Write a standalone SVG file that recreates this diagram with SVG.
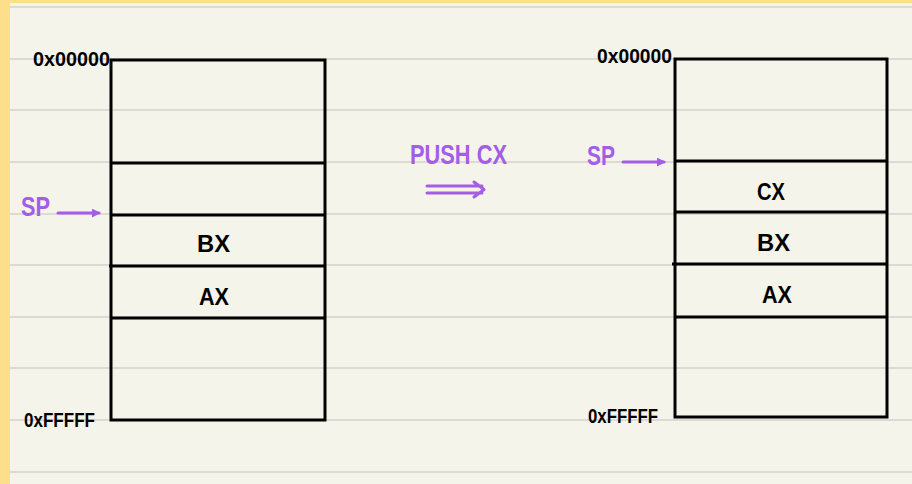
<svg xmlns="http://www.w3.org/2000/svg" width="912" height="484" viewBox="0 0 912 484">
  <style>
    .rule { stroke: #DCDBD3; stroke-width: 2; }
    .box { fill: none; stroke: #000; stroke-width: 3; }
    .div { stroke: #000; stroke-width: 3; }
    .addr { font-family: "Liberation Sans", Arial, sans-serif; font-weight: bold; font-size: 20px; fill: #000; }
    .reg { font-family: "Liberation Sans", Arial, sans-serif; font-weight: bold; font-size: 24px; fill: #000; }
    .hl { font-family: "Liberation Sans", Arial, sans-serif; font-weight: bold; font-size: 28px; fill: #A35DE6; }
    .ptr { stroke: #A35DE6; stroke-width: 3; stroke-linecap: round; fill: none; }
  </style>
  <defs>
    <marker id="tip" viewBox="0 0 10 10" refX="8" refY="5" markerWidth="3" markerHeight="3" orient="auto">
      <path d="M0,0 L10,5 L0,10 z" fill="#A35DE6"/>
    </marker>
  </defs>

  <!-- paper -->
  <rect x="0" y="0" width="912" height="484" fill="#F5F4EA"/>
  <rect x="0" y="0" width="912" height="3" fill="#FDDF8B"/>
  <rect x="0" y="0" width="10" height="484" fill="#FDDF8B"/>
  <g id="ruling">
    <line class="rule" x1="10" y1="7" x2="912" y2="7"/>
    <line class="rule" x1="10" y1="59" x2="912" y2="59"/>
    <line class="rule" x1="10" y1="110" x2="912" y2="110"/>
    <line class="rule" x1="10" y1="162" x2="912" y2="162"/>
    <line class="rule" x1="10" y1="214" x2="912" y2="214"/>
    <line class="rule" x1="10" y1="265" x2="912" y2="265"/>
    <line class="rule" x1="10" y1="317" x2="912" y2="317"/>
    <line class="rule" x1="10" y1="368" x2="912" y2="368"/>
    <line class="rule" x1="10" y1="420" x2="912" y2="420"/>
    <line class="rule" x1="10" y1="472" x2="912" y2="472"/>
  </g>

  <!-- stack before the push -->
  <g id="stack-before">
    <rect class="box" x="111" y="60" width="214" height="360"/>
    <line class="div" x1="111" y1="163" x2="325" y2="163"/>
    <line class="div" x1="111" y1="215" x2="325" y2="215"/>
    <line class="div" x1="109" y1="266" x2="325" y2="266"/>
    <line class="div" x1="111" y1="318" x2="325" y2="318"/>
    <text class="reg" x="197" y="252" textLength="33" lengthAdjust="spacingAndGlyphs">BX</text>
    <text class="reg" x="199" y="305" textLength="30" lengthAdjust="spacingAndGlyphs">AX</text>
  </g>
  <g id="addr-top-before"><text class="addr" x="33" y="66" textLength="77" lengthAdjust="spacingAndGlyphs">0x00000</text></g>
  <g id="addr-bottom-before"><text class="addr" x="24" y="427" textLength="71" lengthAdjust="spacingAndGlyphs">0xFFFFF</text></g>
  <g id="sp-before"><text class="hl" x="21" y="216" textLength="29" lengthAdjust="spacingAndGlyphs">SP</text></g>

  <!-- push operation -->
  <g id="op"><text class="hl" x="410" y="164" textLength="97" lengthAdjust="spacingAndGlyphs">PUSH CX</text></g>

  <!-- stack after the push -->
  <g id="stack-after">
    <rect class="box" x="675" y="59" width="212" height="358"/>
    <line class="div" x1="675" y1="161" x2="887" y2="161"/>
    <line class="div" x1="675" y1="212" x2="887" y2="212"/>
    <line class="div" x1="672" y1="264" x2="887" y2="264"/>
    <line class="div" x1="675" y1="317" x2="887" y2="317"/>
    <text class="reg" x="757" y="200" textLength="28" lengthAdjust="spacingAndGlyphs">CX</text>
    <text class="reg" x="757" y="251" textLength="33" lengthAdjust="spacingAndGlyphs">BX</text>
    <text class="reg" x="762" y="303" textLength="30" lengthAdjust="spacingAndGlyphs">AX</text>
  </g>
  <g id="addr-top-after"><text class="addr" x="597" y="63" textLength="75" lengthAdjust="spacingAndGlyphs">0x00000</text></g>
  <g id="addr-bottom-after"><text class="addr" x="588" y="423" textLength="70" lengthAdjust="spacingAndGlyphs">0xFFFFF</text></g>
  <g id="sp-after"><text class="hl" x="587" y="165" textLength="28" lengthAdjust="spacingAndGlyphs">SP</text></g>

  <g id="connectors">
    <line class="ptr" x1="58" y1="213" x2="99" y2="213" marker-end="url(#tip)"/>
    <line class="ptr" x1="623" y1="162" x2="664" y2="162" marker-end="url(#tip)"/>
    <path class="ptr" d="M427,186 L482,186 M427,193 L482,193 M474,182 L484,189.5 L474,197" stroke-linejoin="round"/>
  </g>
</svg>
